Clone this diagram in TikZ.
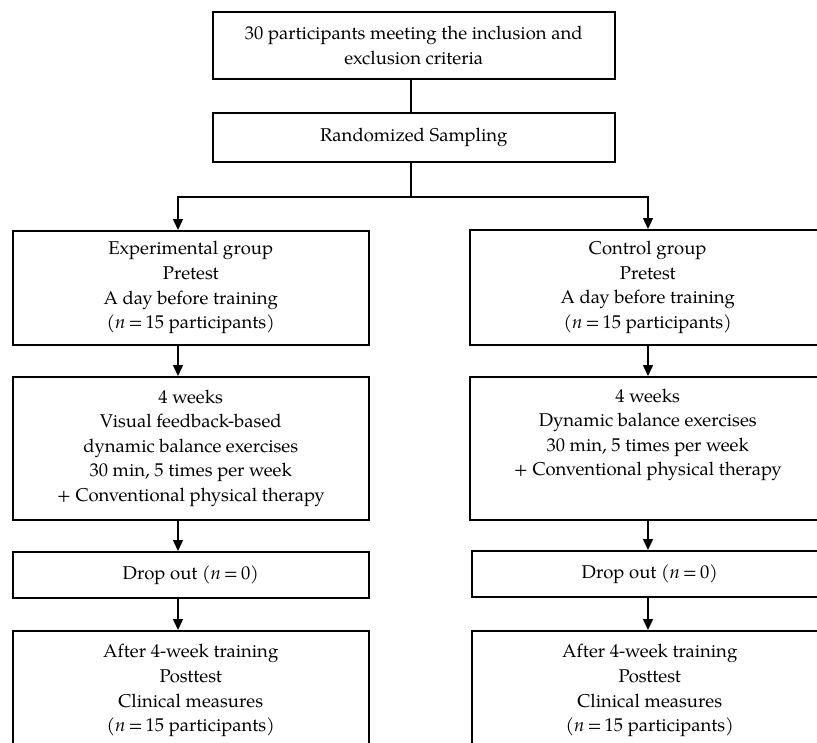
\documentclass[tikz,border=0pt]{standalone}
\usepackage{fontspec}
\setmainfont{TeX Gyre Pagella}
\usetikzlibrary{arrows.meta}
\newcommand{\nn}[1]{\textit{n}\,=\,#1}
\begin{document}
\begin{tikzpicture}[x=1pt,y=-1pt,
  box/.style={draw, line width=1.5pt, inner sep=0pt, align=center,
    font=\fontsize{18.5}{24.6}\selectfont, anchor=north west, minimum width=356pt},
  conn/.style={line width=1.5pt},
  arr/.style={line width=1.5pt, -{Triangle[width=10pt,length=11pt]}}]
\useasboundingbox (0,0) rectangle (817,742);
\coordinate (lx) at (178,0);
\coordinate (rx) at (648,0);
\coordinate (split) at (411,197);

\node[box, minimum width=402pt, minimum height=67pt] (top) at (212,11)
  {30 participants meeting the inclusion and\\exclusion criteria};
\node[box, minimum width=402pt, minimum height=49pt] (rand) at (212,112)
  {Randomized Sampling};

\node[box, minimum height=114pt] (exp) at (12,230)
  {Experimental group\\Pretest\\A day before training\\(\nn{15} participants)};
\node[box, minimum height=115pt] (ctl) at (469,229)
  {Control group\\Pretest\\A day before training\\(\nn{15} participants)};

\node[box, minimum height=143pt] (etr) at (12,376)
  {4 weeks\\Visual feedback-based\\dynamic balance exercises\\30 min, 5 times per week\\+ Conventional physical therapy};
\node[box, minimum height=143pt] (ctr) at (469,376)
  {4 weeks\\Dynamic balance exercises\\30 min, 5 times per week\\+ Conventional physical therapy\\ \strut};

\node[box, minimum height=46pt] (edo) at (12,551) {Drop out (\nn{0})};
\node[box, minimum height=46pt] (cdo) at (471,550) {Drop out (\nn{0})};

\node[box, minimum height=120pt] (epo) at (12,630)
  {After 4-week training\\Posttest\\Clinical measures\\(\nn{15} participants)};
\node[box, minimum height=120pt] (cpo) at (471,630)
  {After 4-week training\\Posttest\\Clinical measures\\(\nn{15} participants)};

\draw[conn] (top.south -| split) -- (rand.north -| split);
\draw[conn] (rand.south -| split) -- (split);
\draw[arr] (split) -| (exp.north -| lx);
\draw[arr] (split) -| (ctl.north -| rx);

\draw[arr] (exp.south -| lx) -- (etr.north -| lx);
\draw[arr] (etr.south -| lx) -- (edo.north -| lx);
\draw[arr] (edo.south -| lx) -- (epo.north -| lx);

\draw[arr] (ctl.south -| rx) -- (ctr.north -| rx);
\draw[arr] (ctr.south -| rx) -- (cdo.north -| rx);
\draw[arr] (cdo.south -| rx) -- (cpo.north -| rx);
\end{tikzpicture}
\end{document}
